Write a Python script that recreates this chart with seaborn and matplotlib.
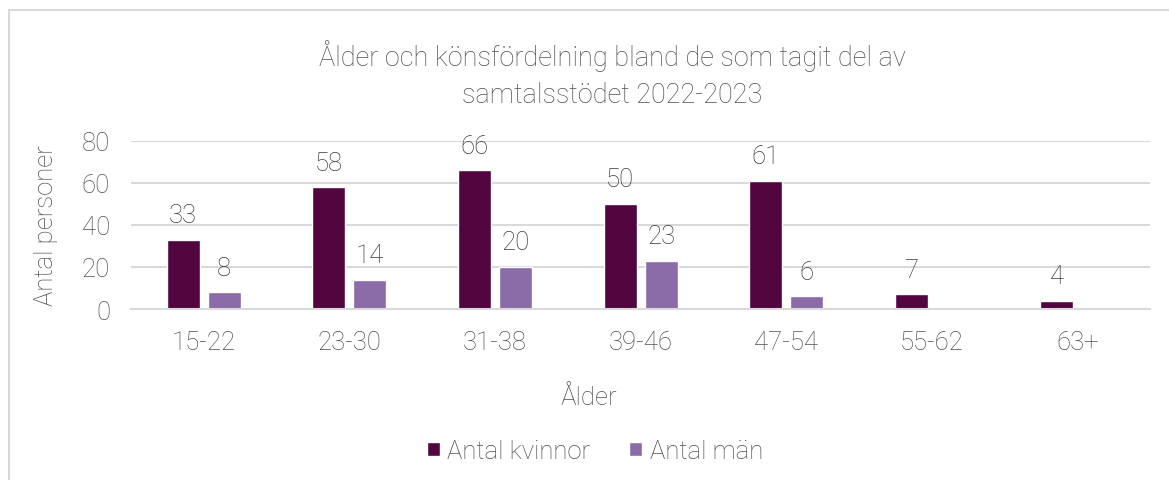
import pandas as pd
import matplotlib.pyplot as plt
import seaborn as sb
from matplotlib.patches import Rectangle

# data
age_groups = ['15-22', '23-30', '31-38', '39-46', '47-54', '55-62', '63+']
women = [33, 58, 66, 50, 61, 7, 4]
men = [8, 14, 20, 23, 6, None, None]
series_names = ['Antal kvinnor', 'Antal män']

title = 'Ålder och könsfördelning bland de som tagit del av\nsamtalsstödet 2022-2023'
x_label = 'Ålder'
y_label = 'Antal personer'

colors = ['#52053F', '#8B6BA8']
text_color = '#505050'
label_color = '#3A3A3A'
grid_color = '#D9D9D9'
fs = 18.5

sb.set_theme(style='white')
plt.rcParams['font.family'] = ['Roboto', 'DejaVu Sans']
plt.rcParams['font.weight'] = 'light'

# long format table for seaborn
df = pd.DataFrame({
    'Ålder': age_groups * 2,
    'Antal': women + men,
    'Kön': [series_names[0]] * len(age_groups) + [series_names[1]] * len(age_groups),
}).dropna()

fig = plt.figure(figsize=(11.69, 4.81), dpi=100)
ax = fig.add_axes([0.112, 0.3555, 0.872, 0.3495])

# outer chart border (partly cut off at right and bottom in the reference)
fig.patches.append(Rectangle((9 / 1169, -0.1), 1.2, 1 - 11 / 481 + 0.1,
                             transform=fig.transFigure, fill=False,
                             edgecolor=grid_color, linewidth=1.5))

sb.barplot(data=df, x='Ålder', y='Antal', hue='Kön', order=age_groups,
           hue_order=series_names, palette=colors, width=0.563, gap=0.195,
           saturation=1, ax=ax, legend=True)

for container in ax.containers:
    ax.bar_label(container, padding=9, fontsize=fs, color=label_color,
                 fontweight='light')

ax.set_ylim(0, 80)
ax.set_yticks([0, 20, 40, 60, 80])
ax.yaxis.grid(True, color=grid_color, linewidth=1.5)
ax.set_axisbelow(True)
for side in ['top', 'right', 'left']:
    ax.spines[side].set_visible(False)
ax.spines['bottom'].set_color(grid_color)
ax.spines['bottom'].set_linewidth(1.5)
ax.tick_params(axis='both', length=0, labelsize=fs, labelcolor=text_color)
ax.tick_params(axis='x', pad=15)
ax.tick_params(axis='y', pad=15)

ax.set_xlabel(x_label, fontsize=fs, color=text_color, fontweight='light')
ax.xaxis.set_label_coords(0.449, -0.45)
ax.set_ylabel(y_label, fontsize=fs, color=text_color, fontweight='light')
ax.yaxis.set_label_coords(-0.072, 0.5)
fig.suptitle(title, x=0.5235, y=0.917, fontsize=19.5, color=text_color,
             fontweight='light', linespacing=1.5)

ax.legend(loc='center', bbox_to_anchor=(0.455, -0.845), ncol=2, frameon=False,
          fontsize=fs, labelcolor=text_color, handlelength=0.5,
          handleheight=0.5, handletextpad=0.3, columnspacing=1.5)

fig.savefig('out.png', dpi=100)
